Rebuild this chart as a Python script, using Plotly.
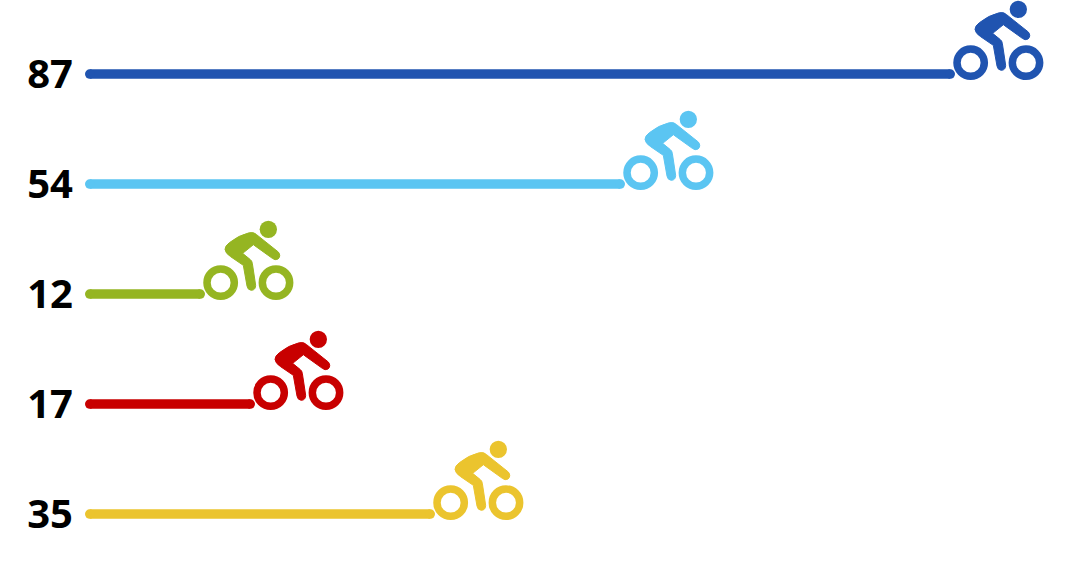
import plotly.graph_objects as go

categories = ["87", "54", "12", "17", "35"]
values = [87, 54, 12, 17, 35]
colors = ["#2054B0", "#5BC5F2", "#95B522", "#C80000", "#EBC42E"]

LINE_PX = 9.5
PX_PER_UNIT = 10
INSET = (LINE_PX / 2) / PX_PER_UNIT


def zx(v):
    return v / 3 - 15


def zy(v):
    return 74 - v / 3


# Cyclist body glyph, in pixels relative to the end of the bar
BODY = [
    ("M", (105, 88)), ("Q", (105, 78), (118, 68)), ("Q", (145, 46), (178, 38)),
    ("Q", (192, 35), (200, 44)), ("L", (265, 96)), ("Q", (274, 108), (264, 117)),
    ("Q", (255, 122), (247, 115)), ("L", (190, 74)), ("L", (158, 100)),
    ("L", (180, 118)), ("Q", (186, 122), (187, 130)), ("L", (197, 196)),
    ("Q", (197, 210), (184, 211)), ("Q", (173, 210), (171, 198)),
    ("L", (160, 136)), ("L", (122, 110)), ("Q", (106, 100), (105, 88)),
]
body_path = ""
for seg in BODY:
    body_path += seg[0] + " ".join(f"{zx(p[0]):.2f},{zy(p[1]):.2f}" for p in seg[1:]) + " "
body_path += "Z"

fig = go.Figure()
shapes = []
positions = list(range(len(categories)))
for pos, cat, val, col in zip(positions, categories, values, colors):
    fig.add_trace(go.Scatter(
        x=[INSET, val - INSET], y=[pos, pos], mode="lines+markers",
        line=dict(color=col, width=LINE_PX),
        marker=dict(color=col, size=LINE_PX, line=dict(width=0)),
        cliponaxis=False, showlegend=False, name=cat,
    ))
    common = dict(xref="x", yref="y", xsizemode="pixel", ysizemode="pixel",
                  xanchor=val, yanchor=pos)
    shapes.append(dict(type="path", path=body_path, fillcolor=col,
                       line=dict(color=col, width=1), **common))
    # head
    shapes.append(dict(type="circle", x0=zx(209), x1=zx(261), y0=zy(2), y1=zy(54),
                       fillcolor=col, line=dict(width=0), **common))
    # wheels
    for cx in (92, 258):
        shapes.append(dict(type="circle", x0=zx(cx - 41), x1=zx(cx + 41),
                           y0=zy(188 - 41), y1=zy(188 + 41),
                           fillcolor="rgba(0,0,0,0)",
                           line=dict(color=col, width=7.5), **common))

fig.update_layout(
    width=1085, height=571,
    margin=dict(l=85, r=0, t=0, b=0),
    paper_bgcolor="white", plot_bgcolor="white",
    shapes=shapes,
    xaxis=dict(range=[0, 100], visible=False, fixedrange=True),
    yaxis=dict(tickmode="array", tickvals=positions, ticktext=categories,
               range=[4.518, -0.673], showgrid=False, zeroline=False, showline=False,
               fixedrange=True,
               ticks="outside", ticklen=3, tickcolor="rgba(0,0,0,0)",
               tickfont=dict(family="Open Sans", size=40, color="#000000", weight="bold")),
)
fig.write_html("out.html", config=dict(displayModeBar=False),
               post_script="document.body.style.margin='0';")
